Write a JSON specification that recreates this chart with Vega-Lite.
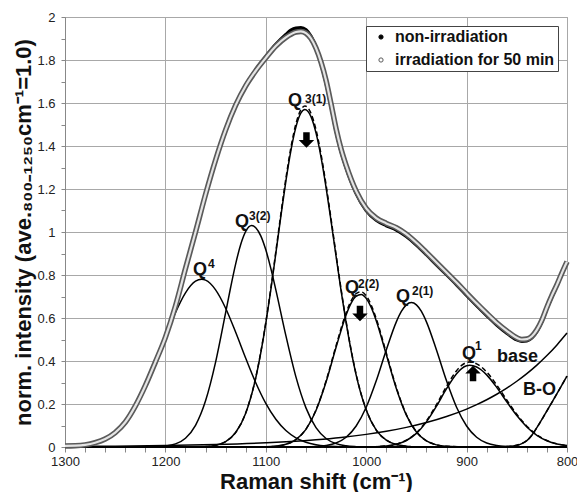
{
  "$schema": "https://vega.github.io/schema/vega-lite/v6.json",
  "width": 502,
  "height": 430,
  "autosize": "none",
  "padding": {"left": 65, "top": 17, "right": 10, "bottom": 45},
  "background": "white",
  "config": {
    "view": {"stroke": "#999999", "strokeWidth": 1},
    "axis": {
      "domainColor": "#888888",
      "tickColor": "#888888",
      "gridColor": "#a8a8a8",
      "gridWidth": 1,
      "labelFont": "Liberation Sans",
      "labelFontSize": 13,
      "labelColor": "#222222",
      "titleFont": "Liberation Sans",
      "titleFontWeight": "bold",
      "titleFontSize": 22,
      "titleColor": "#111111",
      "labelOverlap": false,
      "labelFlush": false
    }
  },
  "datasets": {
    "env": [
      {"s": "irradiation for 50 min", "w": 1300, "v": 0.005},
      {"s": "irradiation for 50 min", "w": 1290, "v": 0.006},
      {"s": "irradiation for 50 min", "w": 1280, "v": 0.01},
      {"s": "irradiation for 50 min", "w": 1270, "v": 0.02},
      {"s": "irradiation for 50 min", "w": 1260, "v": 0.037},
      {"s": "irradiation for 50 min", "w": 1250, "v": 0.067},
      {"s": "irradiation for 50 min", "w": 1240, "v": 0.115},
      {"s": "irradiation for 50 min", "w": 1230, "v": 0.19},
      {"s": "irradiation for 50 min", "w": 1220, "v": 0.285},
      {"s": "irradiation for 50 min", "w": 1210, "v": 0.395},
      {"s": "irradiation for 50 min", "w": 1200, "v": 0.51},
      {"s": "irradiation for 50 min", "w": 1190, "v": 0.655},
      {"s": "irradiation for 50 min", "w": 1180, "v": 0.83},
      {"s": "irradiation for 50 min", "w": 1170, "v": 1.0},
      {"s": "irradiation for 50 min", "w": 1160, "v": 1.175},
      {"s": "irradiation for 50 min", "w": 1150, "v": 1.335},
      {"s": "irradiation for 50 min", "w": 1140, "v": 1.475},
      {"s": "irradiation for 50 min", "w": 1130, "v": 1.59},
      {"s": "irradiation for 50 min", "w": 1120, "v": 1.68},
      {"s": "irradiation for 50 min", "w": 1110, "v": 1.75},
      {"s": "irradiation for 50 min", "w": 1100, "v": 1.81},
      {"s": "irradiation for 50 min", "w": 1090, "v": 1.865},
      {"s": "irradiation for 50 min", "w": 1080, "v": 1.905},
      {"s": "irradiation for 50 min", "w": 1070, "v": 1.93},
      {"s": "irradiation for 50 min", "w": 1065, "v": 1.933},
      {"s": "irradiation for 50 min", "w": 1060, "v": 1.925},
      {"s": "irradiation for 50 min", "w": 1055, "v": 1.9},
      {"s": "irradiation for 50 min", "w": 1050, "v": 1.855},
      {"s": "irradiation for 50 min", "w": 1045, "v": 1.79},
      {"s": "irradiation for 50 min", "w": 1040, "v": 1.705},
      {"s": "irradiation for 50 min", "w": 1035, "v": 1.595},
      {"s": "irradiation for 50 min", "w": 1030, "v": 1.48},
      {"s": "irradiation for 50 min", "w": 1025, "v": 1.385},
      {"s": "irradiation for 50 min", "w": 1020, "v": 1.31},
      {"s": "irradiation for 50 min", "w": 1010, "v": 1.19},
      {"s": "irradiation for 50 min", "w": 1000, "v": 1.11},
      {"s": "irradiation for 50 min", "w": 990, "v": 1.065},
      {"s": "irradiation for 50 min", "w": 980, "v": 1.04},
      {"s": "irradiation for 50 min", "w": 970, "v": 1.02},
      {"s": "irradiation for 50 min", "w": 960, "v": 0.99},
      {"s": "irradiation for 50 min", "w": 950, "v": 0.95},
      {"s": "irradiation for 50 min", "w": 940, "v": 0.905},
      {"s": "irradiation for 50 min", "w": 930, "v": 0.858},
      {"s": "irradiation for 50 min", "w": 920, "v": 0.812},
      {"s": "irradiation for 50 min", "w": 910, "v": 0.765},
      {"s": "irradiation for 50 min", "w": 900, "v": 0.716},
      {"s": "irradiation for 50 min", "w": 890, "v": 0.668},
      {"s": "irradiation for 50 min", "w": 880, "v": 0.622},
      {"s": "irradiation for 50 min", "w": 870, "v": 0.578},
      {"s": "irradiation for 50 min", "w": 860, "v": 0.54},
      {"s": "irradiation for 50 min", "w": 850, "v": 0.508},
      {"s": "irradiation for 50 min", "w": 845, "v": 0.5},
      {"s": "irradiation for 50 min", "w": 840, "v": 0.502},
      {"s": "irradiation for 50 min", "w": 835, "v": 0.515},
      {"s": "irradiation for 50 min", "w": 830, "v": 0.545},
      {"s": "irradiation for 50 min", "w": 825, "v": 0.59},
      {"s": "irradiation for 50 min", "w": 820, "v": 0.65},
      {"s": "irradiation for 50 min", "w": 815, "v": 0.705},
      {"s": "irradiation for 50 min", "w": 810, "v": 0.755},
      {"s": "irradiation for 50 min", "w": 805, "v": 0.81},
      {"s": "irradiation for 50 min", "w": 800, "v": 0.862},
      {"s": "non-irradiation", "w": 1300, "v": 0.005},
      {"s": "non-irradiation", "w": 1290, "v": 0.006},
      {"s": "non-irradiation", "w": 1280, "v": 0.01},
      {"s": "non-irradiation", "w": 1270, "v": 0.02},
      {"s": "non-irradiation", "w": 1260, "v": 0.037},
      {"s": "non-irradiation", "w": 1250, "v": 0.067},
      {"s": "non-irradiation", "w": 1240, "v": 0.115},
      {"s": "non-irradiation", "w": 1230, "v": 0.19},
      {"s": "non-irradiation", "w": 1220, "v": 0.285},
      {"s": "non-irradiation", "w": 1210, "v": 0.395},
      {"s": "non-irradiation", "w": 1200, "v": 0.51},
      {"s": "non-irradiation", "w": 1190, "v": 0.655},
      {"s": "non-irradiation", "w": 1180, "v": 0.83},
      {"s": "non-irradiation", "w": 1170, "v": 1.0},
      {"s": "non-irradiation", "w": 1160, "v": 1.175},
      {"s": "non-irradiation", "w": 1150, "v": 1.335},
      {"s": "non-irradiation", "w": 1140, "v": 1.475},
      {"s": "non-irradiation", "w": 1130, "v": 1.59},
      {"s": "non-irradiation", "w": 1120, "v": 1.682},
      {"s": "non-irradiation", "w": 1110, "v": 1.754},
      {"s": "non-irradiation", "w": 1100, "v": 1.815},
      {"s": "non-irradiation", "w": 1090, "v": 1.872},
      {"s": "non-irradiation", "w": 1080, "v": 1.918},
      {"s": "non-irradiation", "w": 1075, "v": 1.938},
      {"s": "non-irradiation", "w": 1070, "v": 1.948},
      {"s": "non-irradiation", "w": 1065, "v": 1.95},
      {"s": "non-irradiation", "w": 1060, "v": 1.94},
      {"s": "non-irradiation", "w": 1055, "v": 1.91},
      {"s": "non-irradiation", "w": 1050, "v": 1.858},
      {"s": "non-irradiation", "w": 1045, "v": 1.785},
      {"s": "non-irradiation", "w": 1040, "v": 1.695},
      {"s": "non-irradiation", "w": 1035, "v": 1.585},
      {"s": "non-irradiation", "w": 1030, "v": 1.47},
      {"s": "non-irradiation", "w": 1025, "v": 1.375},
      {"s": "non-irradiation", "w": 1020, "v": 1.3},
      {"s": "non-irradiation", "w": 1010, "v": 1.18},
      {"s": "non-irradiation", "w": 1000, "v": 1.1},
      {"s": "non-irradiation", "w": 990, "v": 1.055},
      {"s": "non-irradiation", "w": 980, "v": 1.03},
      {"s": "non-irradiation", "w": 970, "v": 1.01},
      {"s": "non-irradiation", "w": 960, "v": 0.98},
      {"s": "non-irradiation", "w": 950, "v": 0.94},
      {"s": "non-irradiation", "w": 940, "v": 0.895},
      {"s": "non-irradiation", "w": 930, "v": 0.848},
      {"s": "non-irradiation", "w": 920, "v": 0.802},
      {"s": "non-irradiation", "w": 910, "v": 0.755},
      {"s": "non-irradiation", "w": 900, "v": 0.706},
      {"s": "non-irradiation", "w": 890, "v": 0.658},
      {"s": "non-irradiation", "w": 880, "v": 0.612},
      {"s": "non-irradiation", "w": 870, "v": 0.568},
      {"s": "non-irradiation", "w": 860, "v": 0.53},
      {"s": "non-irradiation", "w": 850, "v": 0.499},
      {"s": "non-irradiation", "w": 845, "v": 0.492},
      {"s": "non-irradiation", "w": 840, "v": 0.494},
      {"s": "non-irradiation", "w": 835, "v": 0.508},
      {"s": "non-irradiation", "w": 830, "v": 0.538},
      {"s": "non-irradiation", "w": 825, "v": 0.585},
      {"s": "non-irradiation", "w": 820, "v": 0.645},
      {"s": "non-irradiation", "w": 815, "v": 0.7},
      {"s": "non-irradiation", "w": 810, "v": 0.752},
      {"s": "non-irradiation", "w": 805, "v": 0.808},
      {"s": "non-irradiation", "w": 800, "v": 0.86}
    ],
    "solid": [
      {"c": "Q4", "w": 1300, "v": 0.0018}, {"c": "Q4", "w": 1290, "v": 0.0042}, {"c": "Q4", "w": 1280, "v": 0.0094},
      {"c": "Q4", "w": 1270, "v": 0.0194}, {"c": "Q4", "w": 1260, "v": 0.0377}, {"c": "Q4", "w": 1250, "v": 0.0686},
      {"c": "Q4", "w": 1240, "v": 0.1168}, {"c": "Q4", "w": 1230, "v": 0.1863}, {"c": "Q4", "w": 1220, "v": 0.2782},
      {"c": "Q4", "w": 1210, "v": 0.389}, {"c": "Q4", "w": 1200, "v": 0.509}, {"c": "Q4", "w": 1190, "v": 0.6245},
      {"c": "Q4", "w": 1180, "v": 0.717}, {"c": "Q4", "w": 1170, "v": 0.771}, {"c": "Q4", "w": 1164, "v": 0.78},
      {"c": "Q4", "w": 1160, "v": 0.776}, {"c": "Q4", "w": 1150, "v": 0.731}, {"c": "Q4", "w": 1140, "v": 0.6455},
      {"c": "Q4", "w": 1130, "v": 0.5334}, {"c": "Q4", "w": 1120, "v": 0.4128}, {"c": "Q4", "w": 1110, "v": 0.299},
      {"c": "Q4", "w": 1100, "v": 0.203}, {"c": "Q4", "w": 1090, "v": 0.129}, {"c": "Q4", "w": 1080, "v": 0.0767},
      {"c": "Q4", "w": 1070, "v": 0.0427}, {"c": "Q4", "w": 1060, "v": 0.0223}, {"c": "Q4", "w": 1050, "v": 0.0109},
      {"c": "Q4", "w": 1040, "v": 0.005}, {"c": "Q4", "w": 1030, "v": 0.0021}, {"c": "Q4", "w": 1020, "v": 0.0008},
      {"c": "Q4", "w": 1000, "v": 0}, {"c": "Q4", "w": 900, "v": 0}, {"c": "Q4", "w": 800, "v": 0},

      {"c": "Q32", "w": 1300, "v": 0}, {"c": "Q32", "w": 1250, "v": 0}, {"c": "Q32", "w": 1220, "v": 0.0003},
      {"c": "Q32", "w": 1210, "v": 0.0011}, {"c": "Q32", "w": 1200, "v": 0.0043}, {"c": "Q32", "w": 1190, "v": 0.0144},
      {"c": "Q32", "w": 1180, "v": 0.041}, {"c": "Q32", "w": 1170, "v": 0.101}, {"c": "Q32", "w": 1160, "v": 0.215},
      {"c": "Q32", "w": 1150, "v": 0.395}, {"c": "Q32", "w": 1140, "v": 0.625}, {"c": "Q32", "w": 1135, "v": 0.743},
      {"c": "Q32", "w": 1130, "v": 0.852}, {"c": "Q32", "w": 1125, "v": 0.942}, {"c": "Q32", "w": 1120, "v": 1.003},
      {"c": "Q32", "w": 1114, "v": 1.03}, {"c": "Q32", "w": 1110, "v": 1.02}, {"c": "Q32", "w": 1105, "v": 0.982},
      {"c": "Q32", "w": 1100, "v": 0.917}, {"c": "Q32", "w": 1095, "v": 0.831}, {"c": "Q32", "w": 1090, "v": 0.731},
      {"c": "Q32", "w": 1080, "v": 0.518}, {"c": "Q32", "w": 1070, "v": 0.326}, {"c": "Q32", "w": 1060, "v": 0.182},
      {"c": "Q32", "w": 1050, "v": 0.09}, {"c": "Q32", "w": 1040, "v": 0.0397}, {"c": "Q32", "w": 1030, "v": 0.0155},
      {"c": "Q32", "w": 1020, "v": 0.0054}, {"c": "Q32", "w": 1010, "v": 0.0017}, {"c": "Q32", "w": 1000, "v": 0.0004},
      {"c": "Q32", "w": 900, "v": 0}, {"c": "Q32", "w": 800, "v": 0},

      {"c": "Q31", "w": 1300, "v": 0}, {"c": "Q31", "w": 1200, "v": 0}, {"c": "Q31", "w": 1160, "v": 0.002},
      {"c": "Q31", "w": 1150, "v": 0.0084}, {"c": "Q31", "w": 1140, "v": 0.0253}, {"c": "Q31", "w": 1130, "v": 0.0674},
      {"c": "Q31", "w": 1120, "v": 0.157}, {"c": "Q31", "w": 1110, "v": 0.321}, {"c": "Q31", "w": 1100, "v": 0.5745},
      {"c": "Q31", "w": 1095, "v": 0.7311}, {"c": "Q31", "w": 1090, "v": 0.9004}, {"c": "Q31", "w": 1085, "v": 1.0728},
      {"c": "Q31", "w": 1080, "v": 1.2367}, {"c": "Q31", "w": 1075, "v": 1.379}, {"c": "Q31", "w": 1070, "v": 1.488},
      {"c": "Q31", "w": 1065, "v": 1.5535}, {"c": "Q31", "w": 1061, "v": 1.57}, {"c": "Q31", "w": 1055, "v": 1.5367},
      {"c": "Q31", "w": 1050, "v": 1.461}, {"c": "Q31", "w": 1045, "v": 1.3483}, {"c": "Q31", "w": 1040, "v": 1.208},
      {"c": "Q31", "w": 1035, "v": 1.0503}, {"c": "Q31", "w": 1030, "v": 0.8866}, {"c": "Q31", "w": 1025, "v": 0.7266},
      {"c": "Q31", "w": 1020, "v": 0.578}, {"c": "Q31", "w": 1010, "v": 0.3344}, {"c": "Q31", "w": 1000, "v": 0.1719},
      {"c": "Q31", "w": 990, "v": 0.0784}, {"c": "Q31", "w": 980, "v": 0.0318}, {"c": "Q31", "w": 970, "v": 0.0114},
      {"c": "Q31", "w": 960, "v": 0.0036}, {"c": "Q31", "w": 950, "v": 0.001}, {"c": "Q31", "w": 900, "v": 0},
      {"c": "Q31", "w": 800, "v": 0},

      {"c": "Q22", "w": 1300, "v": 0}, {"c": "Q22", "w": 1150, "v": 0}, {"c": "Q22", "w": 1110, "v": 0.0004},
      {"c": "Q22", "w": 1100, "v": 0.001}, {"c": "Q22", "w": 1090, "v": 0.0038}, {"c": "Q22", "w": 1080, "v": 0.0124},
      {"c": "Q22", "w": 1070, "v": 0.0343}, {"c": "Q22", "w": 1060, "v": 0.0821}, {"c": "Q22", "w": 1050, "v": 0.1696},
      {"c": "Q22", "w": 1040, "v": 0.302}, {"c": "Q22", "w": 1030, "v": 0.4636}, {"c": "Q22", "w": 1020, "v": 0.614},
      {"c": "Q22", "w": 1015, "v": 0.6688}, {"c": "Q22", "w": 1010, "v": 0.7016}, {"c": "Q22", "w": 1005, "v": 0.7095},
      {"c": "Q22", "w": 1000, "v": 0.6913}, {"c": "Q22", "w": 995, "v": 0.6492}, {"c": "Q22", "w": 990, "v": 0.5875},
      {"c": "Q22", "w": 980, "v": 0.4306}, {"c": "Q22", "w": 970, "v": 0.2722}, {"c": "Q22", "w": 960, "v": 0.1484},
      {"c": "Q22", "w": 950, "v": 0.0698}, {"c": "Q22", "w": 940, "v": 0.0283}, {"c": "Q22", "w": 930, "v": 0.0099},
      {"c": "Q22", "w": 920, "v": 0.003}, {"c": "Q22", "w": 910, "v": 0.0008}, {"c": "Q22", "w": 880, "v": 0},
      {"c": "Q22", "w": 800, "v": 0},

      {"c": "Q21", "w": 1300, "v": 0}, {"c": "Q21", "w": 1100, "v": 0}, {"c": "Q21", "w": 1060, "v": 0.0005},
      {"c": "Q21", "w": 1050, "v": 0.0021}, {"c": "Q21", "w": 1040, "v": 0.0067}, {"c": "Q21", "w": 1030, "v": 0.0186},
      {"c": "Q21", "w": 1020, "v": 0.0454}, {"c": "Q21", "w": 1010, "v": 0.0977}, {"c": "Q21", "w": 1000, "v": 0.1847},
      {"c": "Q21", "w": 990, "v": 0.3076}, {"c": "Q21", "w": 980, "v": 0.4511}, {"c": "Q21", "w": 970, "v": 0.5821},
      {"c": "Q21", "w": 965, "v": 0.6305}, {"c": "Q21", "w": 960, "v": 0.6613}, {"c": "Q21", "w": 955, "v": 0.672},
      {"c": "Q21", "w": 950, "v": 0.6613}, {"c": "Q21", "w": 945, "v": 0.6305}, {"c": "Q21", "w": 940, "v": 0.5821},
      {"c": "Q21", "w": 930, "v": 0.4511}, {"c": "Q21", "w": 920, "v": 0.3076}, {"c": "Q21", "w": 910, "v": 0.1847},
      {"c": "Q21", "w": 900, "v": 0.0977}, {"c": "Q21", "w": 890, "v": 0.0454}, {"c": "Q21", "w": 880, "v": 0.0186},
      {"c": "Q21", "w": 870, "v": 0.0067}, {"c": "Q21", "w": 860, "v": 0.0021}, {"c": "Q21", "w": 850, "v": 0.0005},
      {"c": "Q21", "w": 800, "v": 0},

      {"c": "Q1", "w": 1300, "v": 0}, {"c": "Q1", "w": 1050, "v": 0}, {"c": "Q1", "w": 1000, "v": 0.0005},
      {"c": "Q1", "w": 990, "v": 0.0015}, {"c": "Q1", "w": 980, "v": 0.0047}, {"c": "Q1", "w": 970, "v": 0.0127},
      {"c": "Q1", "w": 960, "v": 0.0302}, {"c": "Q1", "w": 950, "v": 0.0633}, {"c": "Q1", "w": 940, "v": 0.1169},
      {"c": "Q1", "w": 930, "v": 0.1897}, {"c": "Q1", "w": 920, "v": 0.2712}, {"c": "Q1", "w": 910, "v": 0.3412},
      {"c": "Q1", "w": 905, "v": 0.3648}, {"c": "Q1", "w": 900, "v": 0.3778}, {"c": "Q1", "w": 897, "v": 0.38},
      {"c": "Q1", "w": 890, "v": 0.372}, {"c": "Q1", "w": 885, "v": 0.357}, {"c": "Q1", "w": 880, "v": 0.3354},
      {"c": "Q1", "w": 870, "v": 0.2772}, {"c": "Q1", "w": 860, "v": 0.2102}, {"c": "Q1", "w": 850, "v": 0.1462},
      {"c": "Q1", "w": 840, "v": 0.0932}, {"c": "Q1", "w": 830, "v": 0.0545}, {"c": "Q1", "w": 820, "v": 0.0293},
      {"c": "Q1", "w": 810, "v": 0.0144}, {"c": "Q1", "w": 800, "v": 0.0065},

      {"c": "base", "w": 1300, "v": 0.0022}, {"c": "base", "w": 1250, "v": 0.0038}, {"c": "base", "w": 1200, "v": 0.0065},
      {"c": "base", "w": 1150, "v": 0.0113}, {"c": "base", "w": 1100, "v": 0.0196}, {"c": "base", "w": 1075, "v": 0.0257},
      {"c": "base", "w": 1050, "v": 0.0339}, {"c": "base", "w": 1025, "v": 0.0446}, {"c": "base", "w": 1000, "v": 0.0587},
      {"c": "base", "w": 980, "v": 0.0731}, {"c": "base", "w": 960, "v": 0.0912}, {"c": "base", "w": 940, "v": 0.1136},
      {"c": "base", "w": 920, "v": 0.1416}, {"c": "base", "w": 900, "v": 0.1764}, {"c": "base", "w": 890, "v": 0.197},
      {"c": "base", "w": 880, "v": 0.2198}, {"c": "base", "w": 870, "v": 0.2454}, {"c": "base", "w": 860, "v": 0.274},
      {"c": "base", "w": 850, "v": 0.3058}, {"c": "base", "w": 840, "v": 0.3413}, {"c": "base", "w": 830, "v": 0.381},
      {"c": "base", "w": 820, "v": 0.4253}, {"c": "base", "w": 810, "v": 0.4748}, {"c": "base", "w": 800, "v": 0.53},

      {"c": "BO", "w": 1300, "v": 0}, {"c": "BO", "w": 900, "v": 0}, {"c": "BO", "w": 870, "v": 0},
      {"c": "BO", "w": 860, "v": 0.002}, {"c": "BO", "w": 850, "v": 0.008}, {"c": "BO", "w": 845, "v": 0.016},
      {"c": "BO", "w": 840, "v": 0.03}, {"c": "BO", "w": 835, "v": 0.055}, {"c": "BO", "w": 830, "v": 0.09},
      {"c": "BO", "w": 825, "v": 0.128}, {"c": "BO", "w": 820, "v": 0.168}, {"c": "BO", "w": 815, "v": 0.208},
      {"c": "BO", "w": 810, "v": 0.248}, {"c": "BO", "w": 805, "v": 0.289}, {"c": "BO", "w": 800, "v": 0.33}
    ],
    "dashed": [
      {"c": "Q31d", "w": 1200, "v": 0}, {"c": "Q31d", "w": 1160, "v": 0.002}, {"c": "Q31d", "w": 1150, "v": 0.0085},
      {"c": "Q31d", "w": 1140, "v": 0.0256}, {"c": "Q31d", "w": 1130, "v": 0.068}, {"c": "Q31d", "w": 1120, "v": 0.159},
      {"c": "Q31d", "w": 1110, "v": 0.324}, {"c": "Q31d", "w": 1100, "v": 0.58}, {"c": "Q31d", "w": 1095, "v": 0.738},
      {"c": "Q31d", "w": 1090, "v": 0.909}, {"c": "Q31d", "w": 1085, "v": 1.084}, {"c": "Q31d", "w": 1080, "v": 1.249},
      {"c": "Q31d", "w": 1075, "v": 1.393}, {"c": "Q31d", "w": 1070, "v": 1.503}, {"c": "Q31d", "w": 1065, "v": 1.569},
      {"c": "Q31d", "w": 1061, "v": 1.586}, {"c": "Q31d", "w": 1055, "v": 1.552}, {"c": "Q31d", "w": 1050, "v": 1.476},
      {"c": "Q31d", "w": 1045, "v": 1.362}, {"c": "Q31d", "w": 1040, "v": 1.22}, {"c": "Q31d", "w": 1035, "v": 1.061},
      {"c": "Q31d", "w": 1030, "v": 0.895}, {"c": "Q31d", "w": 1025, "v": 0.734}, {"c": "Q31d", "w": 1020, "v": 0.584},
      {"c": "Q31d", "w": 1010, "v": 0.338}, {"c": "Q31d", "w": 1000, "v": 0.174}, {"c": "Q31d", "w": 990, "v": 0.079},
      {"c": "Q31d", "w": 980, "v": 0.032}, {"c": "Q31d", "w": 970, "v": 0.0115}, {"c": "Q31d", "w": 960, "v": 0.0036},
      {"c": "Q31d", "w": 950, "v": 0.001}, {"c": "Q31d", "w": 900, "v": 0},

      {"c": "Q22d", "w": 1150, "v": 0}, {"c": "Q22d", "w": 1100, "v": 0.001}, {"c": "Q22d", "w": 1090, "v": 0.0039},
      {"c": "Q22d", "w": 1080, "v": 0.0126}, {"c": "Q22d", "w": 1070, "v": 0.0349}, {"c": "Q22d", "w": 1060, "v": 0.0835},
      {"c": "Q22d", "w": 1050, "v": 0.1725}, {"c": "Q22d", "w": 1040, "v": 0.3071}, {"c": "Q22d", "w": 1030, "v": 0.4715},
      {"c": "Q22d", "w": 1020, "v": 0.6244}, {"c": "Q22d", "w": 1015, "v": 0.6802}, {"c": "Q22d", "w": 1010, "v": 0.7135},
      {"c": "Q22d", "w": 1005, "v": 0.7216}, {"c": "Q22d", "w": 1000, "v": 0.7031}, {"c": "Q22d", "w": 995, "v": 0.6602},
      {"c": "Q22d", "w": 990, "v": 0.5975}, {"c": "Q22d", "w": 980, "v": 0.4379}, {"c": "Q22d", "w": 970, "v": 0.2768},
      {"c": "Q22d", "w": 960, "v": 0.1509}, {"c": "Q22d", "w": 950, "v": 0.071}, {"c": "Q22d", "w": 940, "v": 0.0288},
      {"c": "Q22d", "w": 930, "v": 0.0101}, {"c": "Q22d", "w": 920, "v": 0.0031}, {"c": "Q22d", "w": 880, "v": 0},

      {"c": "Q1d", "w": 1050, "v": 0}, {"c": "Q1d", "w": 1000, "v": 0.0005}, {"c": "Q1d", "w": 990, "v": 0.0016},
      {"c": "Q1d", "w": 980, "v": 0.0049}, {"c": "Q1d", "w": 970, "v": 0.0132}, {"c": "Q1d", "w": 960, "v": 0.0314},
      {"c": "Q1d", "w": 950, "v": 0.0658}, {"c": "Q1d", "w": 940, "v": 0.1216}, {"c": "Q1d", "w": 930, "v": 0.1973},
      {"c": "Q1d", "w": 920, "v": 0.282}, {"c": "Q1d", "w": 910, "v": 0.3548}, {"c": "Q1d", "w": 905, "v": 0.3794},
      {"c": "Q1d", "w": 900, "v": 0.3929}, {"c": "Q1d", "w": 897, "v": 0.3952}, {"c": "Q1d", "w": 890, "v": 0.3869},
      {"c": "Q1d", "w": 885, "v": 0.3713}, {"c": "Q1d", "w": 880, "v": 0.3488}, {"c": "Q1d", "w": 870, "v": 0.2883},
      {"c": "Q1d", "w": 860, "v": 0.2186}, {"c": "Q1d", "w": 850, "v": 0.152}, {"c": "Q1d", "w": 840, "v": 0.0969},
      {"c": "Q1d", "w": 830, "v": 0.0567}, {"c": "Q1d", "w": 820, "v": 0.0305}, {"c": "Q1d", "w": 810, "v": 0.015},
      {"c": "Q1d", "w": 800, "v": 0.0068},

      {"c": "BOd", "w": 900, "v": 0}, {"c": "BOd", "w": 870, "v": 0}, {"c": "BOd", "w": 860, "v": 0.002},
      {"c": "BOd", "w": 850, "v": 0.008}, {"c": "BOd", "w": 845, "v": 0.016}, {"c": "BOd", "w": 840, "v": 0.03},
      {"c": "BOd", "w": 835, "v": 0.055}, {"c": "BOd", "w": 830, "v": 0.09}, {"c": "BOd", "w": 825, "v": 0.128},
      {"c": "BOd", "w": 820, "v": 0.168}, {"c": "BOd", "w": 815, "v": 0.208}, {"c": "BOd", "w": 810, "v": 0.248},
      {"c": "BOd", "w": 805, "v": 0.289}, {"c": "BOd", "w": 800, "v": 0.33}
    ],
    "qlab": [
      {"t": "Q", "w": 1172.5, "v": 0.8},
      {"t": "Q", "w": 1130.7, "v": 1.023},
      {"t": "Q", "w": 1077.9, "v": 1.586},
      {"t": "Q", "w": 1021.1, "v": 0.716},
      {"t": "Q", "w": 970.3, "v": 0.674},
      {"t": "Q", "w": 904.6, "v": 0.409}
    ],
    "suplab": [
      {"t": "4", "w": 1157.6, "v": 0.833},
      {"t": "3(2)", "w": 1116.7, "v": 1.056},
      {"t": "3(1)", "w": 1061, "v": 1.6},
      {"t": "2(2)", "w": 1008.2, "v": 0.74},
      {"t": "2(1)", "w": 954.4, "v": 0.707},
      {"t": "1", "w": 891.6, "v": 0.451}
    ],
    "plainlab": [
      {"t": "base", "w": 869.7, "v": 0.395},
      {"t": "B-O", "w": 843.8, "v": 0.242}
    ],
    "arrows": [
      {"dir": "down", "w": 1059.5, "v": 1.428},
      {"dir": "down", "w": 1006.2, "v": 0.621},
      {"dir": "up", "w": 893.6, "v": 0.342}
    ]
  },
  "encoding": {
    "x": {
      "field": "w",
      "type": "quantitative",
      "scale": {"domain": [800, 1300], "reverse": true, "nice": false, "zero": false},
      "axis": {
        "title": "Raman shift (cm⁻¹)",
        "titlePadding": 3,
        "values": [800, 820, 840, 860, 880, 900, 920, 940, 960, 980, 1000, 1020, 1040, 1060, 1080, 1100, 1120, 1140, 1160, 1180, 1200, 1220, 1240, 1260, 1280, 1300],
        "labelExpr": "datum.value % 100 === 0 ? format(datum.value, 'd') : ''",
        "gridOpacity": {"condition": {"test": "datum.value % 100 !== 0", "value": 0}, "value": 1},
        "tickSize": 5,
        "labelPadding": 3
      }
    },
    "y": {
      "field": "v",
      "type": "quantitative",
      "scale": {"domain": [0, 2], "nice": false},
      "axis": {
        "title": "norm. intensity (ave.₈₀₀₋₁₂₅₀cm⁻¹=1.0)",
        "titlePadding": 1,
        "values": [0, 0.1, 0.2, 0.3, 0.4, 0.5, 0.6, 0.7, 0.8, 0.9, 1, 1.1, 1.2, 1.3, 1.4, 1.5, 1.6, 1.7, 1.8, 1.9, 2],
        "labelExpr": "round(datum.value * 10) % 2 === 0 ? format(datum.value, '.1~f') : ''",
        "gridOpacity": {"condition": {"test": "round(datum.value * 10) % 2 !== 0", "value": 0}, "value": 1},
        "tickSize": 4,
        "labelPadding": 6
      }
    }
  },
  "layer": [
    {
      "data": {"name": "solid"},
      "mark": {"type": "line", "interpolate": "monotone", "stroke": "#000000", "strokeWidth": 1.5},
      "encoding": {"detail": {"field": "c", "type": "nominal"}}
    },
    {
      "data": {"name": "dashed"},
      "mark": {"type": "line", "interpolate": "monotone", "stroke": "#000000", "strokeWidth": 1.5, "strokeDash": [5, 3]},
      "encoding": {"detail": {"field": "c", "type": "nominal"}}
    },
    {
      "data": {"name": "env"},
      "transform": [{"filter": "datum.s === 'non-irradiation'"}],
      "mark": {"type": "line", "interpolate": "monotone", "strokeWidth": 3.5},
      "encoding": {
        "color": {
          "field": "s",
          "type": "nominal",
          "scale": {"domain": ["non-irradiation", "irradiation for 50 min"], "range": ["#000000", "#5a5a5a"]},
          "legend": {
            "title": null,
            "orient": "top-right",
            "offset": 9,
            "symbolType": "circle",
            "symbolSize": 18,
            "symbolOffset": 4,
            "strokeColor": "#444444",
            "fillColor": "#ffffff",
            "padding": 3,
            "rowPadding": 7,
            "labelOffset": 6,
            "labelFont": "Liberation Sans",
            "labelFontSize": 16,
            "labelFontWeight": "bold",
            "labelColor": "#111111",
            "encode": {
              "symbols": {
                "update": {
                  "fill": {"signal": "datum.value === 'non-irradiation' ? '#000000' : '#ffffff'"},
                  "stroke": {"signal": "datum.value === 'non-irradiation' ? '#000000' : '#555555'"},
                  "strokeWidth": {"value": 1}
                }
              }
            }
          }
        }
      }
    },
    {
      "data": {"name": "env"},
      "transform": [{"filter": "datum.s !== 'non-irradiation'"}],
      "mark": {"type": "line", "interpolate": "monotone", "strokeWidth": 5.5},
      "encoding": {
        "color": {"field": "s", "type": "nominal"}
      }
    },
    {
      "data": {"name": "env"},
      "transform": [{"filter": "datum.s !== 'non-irradiation'"}],
      "mark": {"type": "line", "interpolate": "monotone", "strokeWidth": 2.2, "stroke": "#e4e4e4"},
      "encoding": {}
    },
    {
      "data": {"name": "qlab"},
      "mark": {"type": "text", "align": "left", "baseline": "alphabetic", "font": "Liberation Sans", "fontWeight": "bold", "fontSize": 18, "color": "#111111"},
      "encoding": {"text": {"field": "t", "type": "nominal"}}
    },
    {
      "data": {"name": "suplab"},
      "mark": {"type": "text", "align": "left", "baseline": "alphabetic", "font": "Liberation Sans", "fontWeight": "bold", "fontSize": 12, "color": "#111111"},
      "encoding": {"text": {"field": "t", "type": "nominal"}}
    },
    {
      "data": {"name": "plainlab"},
      "mark": {"type": "text", "align": "left", "baseline": "alphabetic", "font": "Liberation Sans", "fontWeight": "bold", "fontSize": 18, "color": "#111111"},
      "encoding": {"text": {"field": "t", "type": "nominal"}}
    },
    {
      "data": {"name": "arrows"},
      "mark": {"type": "point", "filled": true, "color": "#000000", "opacity": 1, "size": 240, "strokeWidth": 0},
      "encoding": {
        "shape": {
          "field": "dir",
          "type": "nominal",
          "scale": {"domain": ["down", "up"], "range": ["M-0.42,-1L0.42,-1L0.42,0L1,0L0,1L-1,0L-0.42,0Z", "M-0.42,1L0.42,1L0.42,0L1,0L0,-1L-1,0L-0.42,0Z"]},
          "legend": null
        }
      }
    }
  ]
}
